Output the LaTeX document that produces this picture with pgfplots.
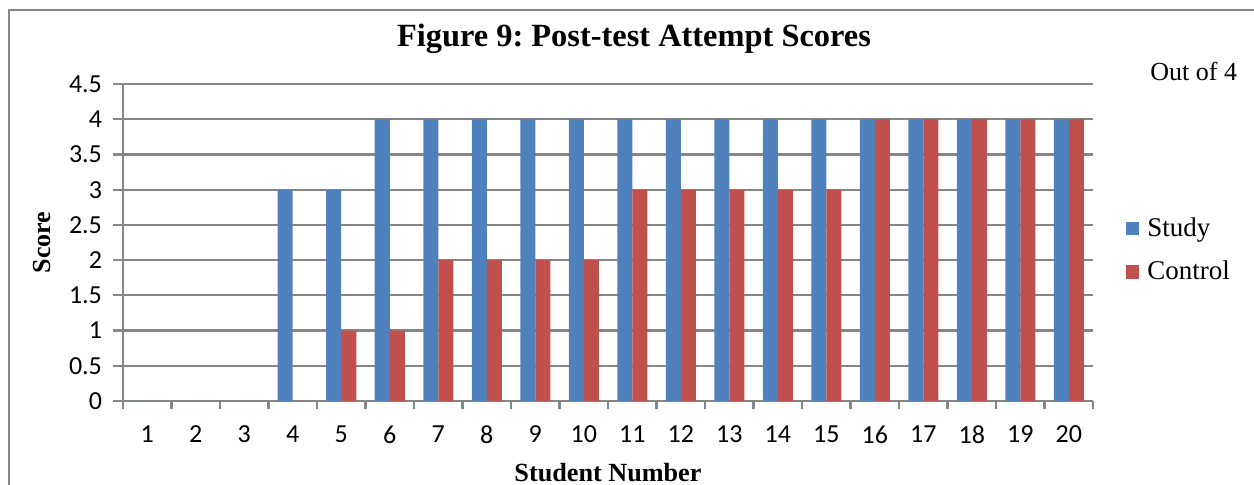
\documentclass[border=0pt]{standalone}
\usepackage{pgfplots}
\pgfplotsset{compat=1.18}
\usepackage{fontspec}
\setmainfont{Liberation Serif}
\newfontfamily\calibri{Carlito}
\definecolor{studyblue}{HTML}{4F81BD}
\definecolor{controlred}{HTML}{C0504D}
\definecolor{gridgray}{HTML}{868686}
\frenchspacing
\begin{document}
\begin{tikzpicture}[x=1pt,y=1pt]
\useasboundingbox (0,0) rectangle (627,242.5);
\draw[gridgray, line width=0.9pt] (4.5,0) -- (4.5,237.5) -- (627,237.5);
\node[anchor=base, font=\bfseries\fontsize{16.2}{19}\selectfont] at (317,219) {Figure 9: Post-test Attempt Scores};
\node[anchor=base west, inner sep=0pt, font=\fontsize{13}{15}\selectfont] at (575,202) {Out of 4};
\begin{axis}[
  at={(61.5pt,42pt)}, anchor=south west,
  scale only axis, width=485pt, height=158.5pt,
  xmin=0.5, xmax=20.5, ymin=0, ymax=4.5,
  ybar=0pt, bar width=7.5pt,
  axis x line=bottom, axis y line=left,
  axis line style={gridgray, line width=1.1pt, -},
  xtick={1,...,20}, major x tick style={draw=none},
  minor xtick={0.5,1.5,...,20.5},
  minor x tick style={gridgray, line width=1.1pt},
  minor tick length=4pt,
  ytick={0,0.5,...,4.5},
  major y tick style={gridgray, line width=1.1pt},
  major tick length=5pt,
  tick align=outside,
  ymajorgrids, grid style={gridgray, line width=1.1pt},
  /pgf/number format/assume math mode=true,
  yticklabel style={/pgf/number format/fixed, /pgf/number format/precision=1, xshift=-2pt},
  ticklabel style={font=\calibri\fontsize{13}{15}\selectfont},
  xticklabel style={yshift=-4pt},
  xlabel={Student Number}, ylabel={Score},
  every axis x label/.style={at={(axis description cs:0.5,-0.226)}, anchor=center, font=\bfseries\fontsize{13.1}{15}\selectfont},
  every axis y label/.style={at={(axis description cs:-0.0835,0.5)}, rotate=90, anchor=center, font=\bfseries\fontsize{13}{15}\selectfont},
  legend style={at={(1.034,0.476)}, anchor=west, draw=none, fill=none,
    font=\fontsize{13.5}{15}\selectfont, row sep=7pt, inner sep=0pt,
    /tikz/every odd column/.append style={column sep=2pt}},
  legend cell align=left,
  legend image code/.code={\fill[#1] (0pt,-3.3pt) rectangle (6.5pt,3.3pt);},
]
\addplot[fill=studyblue, draw=none] coordinates {
(1,0)(2,0)(3,0)(4,3)(5,3)(6,4)(7,4)(8,4)(9,4)(10,4)
(11,4)(12,4)(13,4)(14,4)(15,4)(16,4)(17,4)(18,4)(19,4)(20,4)};
\addplot[fill=controlred, draw=none] coordinates {
(1,0)(2,0)(3,0)(4,0)(5,1)(6,1)(7,2)(8,2)(9,2)(10,2)
(11,3)(12,3)(13,3)(14,3)(15,3)(16,4)(17,4)(18,4)(19,4)(20,4)};
\legend{Study, Control}
\end{axis}
\end{tikzpicture}
\end{document}
